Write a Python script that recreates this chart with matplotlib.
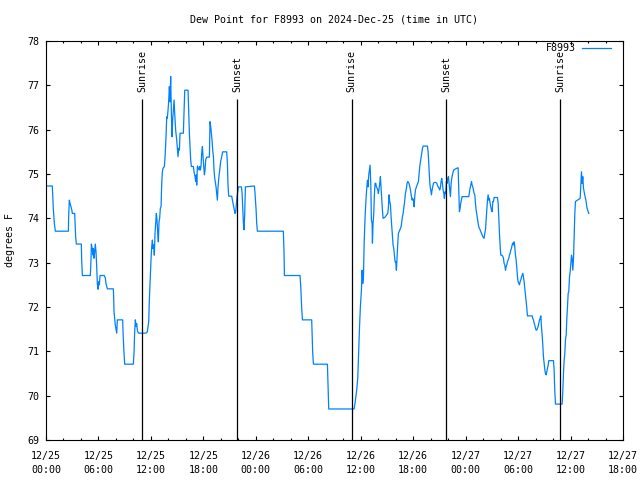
import matplotlib
matplotlib.use('Agg')
import matplotlib.pyplot as plt

# --- data: hours since 2024-12-25 00:00 UTC, dew point (F) ---
hours = [
    0.00, 0.72, 0.76, 0.84, 0.95, 1.07, 2.56, 2.59, 2.67, 2.75, 2.86, 2.97, 3.01, 3.28, 3.32, 3.39,
    3.47, 4.04, 4.08, 4.16, 5.07, 5.15, 5.19, 5.30, 5.38, 5.42, 5.49, 5.57, 5.64, 5.72, 5.80, 5.87,
    5.95, 6.03, 6.10, 6.18, 6.67, 6.79, 6.86, 7.02, 7.70, 7.74, 7.78, 7.93, 8.09, 8.16, 8.77, 8.81,
    8.92, 9.00, 9.99, 10.07, 10.14, 10.22, 10.30, 10.37, 10.45, 10.56, 11.44, 11.59, 11.75, 11.82,
    12.01, 12.09, 12.17, 12.24, 12.32, 12.39, 12.47, 12.55, 12.62, 12.70, 12.78, 12.85, 12.93, 13.00,
    13.08, 13.16, 13.23, 13.31, 13.39, 13.54, 13.62, 13.73, 13.81, 13.88, 13.96, 14.04, 14.11, 14.19,
    14.26, 14.34, 14.42, 14.49, 14.57, 14.65, 14.72, 14.83, 14.95, 15.03, 15.10, 15.18, 15.26, 15.33,
    15.71, 15.79, 15.87, 16.25, 16.32, 16.40, 16.48, 16.55, 16.63, 16.86, 16.93, 17.05, 17.12, 17.20,
    17.24, 17.32, 17.43, 17.51, 17.58, 17.66, 17.74, 17.81, 17.89, 17.96, 18.04, 18.12, 18.19, 18.27,
    18.38, 18.69, 18.76, 18.84, 18.92, 18.99, 19.07, 19.15, 19.22, 19.30, 19.45, 19.53, 19.60, 19.68,
    19.76, 19.83, 19.91, 19.98, 20.10, 20.21, 20.67, 20.75, 20.82, 20.90, 21.24, 21.32, 21.39, 21.47,
    21.55, 21.62, 21.70, 21.78, 21.85, 21.93, 22.01, 22.35, 22.43, 22.50, 22.58, 22.65, 22.73, 22.81,
    23.84, 23.91, 24.03, 24.10, 24.18, 27.15, 27.23, 27.27, 29.06, 29.14, 29.25, 29.33, 30.39, 30.43,
    30.51, 30.59, 32.19, 32.27, 32.34, 35.24, 35.35, 35.47, 35.54, 35.66, 35.74, 35.85, 35.96, 36.08,
    36.16, 36.23, 36.31, 36.39, 36.50, 36.61, 36.69, 36.77, 36.84, 36.92, 36.99, 37.07, 37.15, 37.22,
    37.30, 37.34, 37.41, 37.49, 37.57, 37.64, 37.72, 37.79, 37.87, 37.95, 38.02, 38.10, 38.18, 38.25,
    38.33, 38.41, 38.48, 38.56, 38.75, 38.98, 39.09, 39.17, 39.24, 39.32, 39.40, 39.47, 39.55, 39.63,
    39.70, 39.78, 39.85, 39.93, 40.01, 40.08, 40.16, 40.24, 40.31, 40.47, 40.62, 40.69, 40.77, 40.85,
    40.92, 41.00, 41.11, 41.23, 41.30, 41.38, 41.50, 41.57, 41.65, 41.72, 41.80, 41.88, 41.95, 42.03,
    42.11, 42.18, 42.26, 42.37, 42.53, 42.60, 42.68, 42.75, 42.83, 42.91, 42.98, 43.06, 43.14, 43.63,
    43.71, 43.78, 43.86, 43.94, 44.01, 44.09, 44.16, 44.24, 44.32, 44.43, 44.58, 44.70, 44.77, 44.85,
    44.96, 45.04, 45.12, 45.19, 45.27, 45.34, 45.42, 45.50, 45.57, 45.65, 45.73, 45.80, 45.88, 45.96,
    46.03, 46.11, 46.18, 46.26, 46.34, 46.41, 46.53, 46.64, 46.80, 46.99, 47.14, 47.22, 47.29, 47.37,
    47.44, 47.52, 47.60, 48.36, 48.44, 48.51, 48.59, 48.67, 48.74, 48.82, 48.89, 48.97, 49.05, 49.12,
    49.20, 49.28, 49.35, 49.43, 49.50, 49.58, 49.66, 49.73, 49.89, 49.96, 50.11, 50.19, 50.27, 50.34,
    50.42, 50.50, 50.57, 50.65, 50.72, 50.80, 50.88, 50.95, 51.03, 51.11, 51.18, 51.26, 51.64, 51.72,
    51.79, 51.87, 51.95, 52.02, 52.17, 52.25, 52.33, 52.40, 52.48, 52.56, 52.63, 52.71, 52.78, 52.86,
    52.94, 53.01, 53.09, 53.17, 53.24, 53.32, 53.39, 53.47, 53.55, 53.62, 53.70, 53.78, 53.85, 53.93,
    54.00, 54.16, 54.23, 54.31, 54.39, 54.46, 54.54, 54.61, 54.69, 54.77, 54.84, 54.92, 55.00, 55.07,
    55.61, 55.68, 55.76, 55.84, 55.91, 55.99, 56.06, 56.14, 56.22, 56.29, 56.37, 56.45, 56.52, 56.60,
    56.67, 56.75, 56.83, 56.90, 56.98, 57.06, 57.13, 57.21, 57.28, 57.36, 57.44, 57.51, 58.05, 58.12,
    58.20, 58.28, 59.04, 59.12, 59.20, 59.27, 59.34, 59.42, 59.50, 59.57, 59.65, 59.73, 59.80, 59.88,
    59.96, 60.03, 60.11, 60.18, 60.26, 60.34, 60.41, 60.49, 60.56, 60.95, 61.10, 61.17, 61.25, 61.33,
    61.40, 61.48, 61.59, 61.71, 61.78, 61.86, 61.94, 62.01, 62.09,
]
dewpt = [
    74.73, 74.73, 74.56, 74.21, 73.89, 73.71, 73.71, 74.04, 74.41, 74.34, 74.26, 74.17, 74.11, 74.11, 73.94, 73.59,
    73.42, 73.42, 73.06, 72.71, 72.71, 73.08, 73.42, 73.29, 73.17, 73.32, 73.10, 73.25, 73.42, 73.25, 72.91, 72.53,
    72.40, 72.57, 72.50, 72.71, 72.71, 72.65, 72.53, 72.41, 72.41, 72.23, 71.89, 71.59, 71.41, 71.71, 71.71, 71.44,
    70.97, 70.71, 70.71, 70.97, 71.43, 71.71, 71.56, 71.63, 71.48, 71.41, 71.41, 71.44, 71.67, 72.14,
    73.06, 73.36, 73.51, 73.32, 73.40, 73.17, 73.66, 73.89, 74.11, 73.96, 73.66, 73.47, 73.92, 74.00,
    74.23, 74.26, 74.75, 75.05, 75.13, 75.17, 75.39, 75.84, 76.29, 76.26, 76.44, 76.67, 76.97, 76.63,
    77.20, 76.37, 75.84, 76.22, 76.44, 76.67, 76.37, 75.99, 75.77, 75.58, 75.39, 75.58, 75.54, 75.92,
    75.92, 76.41, 76.89, 76.89, 76.44, 75.92, 75.58, 75.32, 75.17, 75.17, 75.05, 74.94, 74.83, 74.98,
    74.75, 75.18, 75.13, 75.09, 75.17, 75.09, 75.20, 75.47, 75.62, 75.39, 75.17, 74.98, 75.09, 75.32,
    75.38, 75.38, 76.18, 76.07, 75.92, 75.77, 75.54, 75.39, 75.09, 74.90, 74.71, 74.56, 74.41, 74.71,
    74.90, 75.02, 75.17, 75.28, 75.39, 75.50, 75.50, 75.24, 74.75, 74.50, 74.50, 74.41, 74.34, 74.26,
    74.19, 74.11, 74.15, 74.34, 74.49, 74.60, 74.71, 74.71, 74.56, 74.26, 73.89, 73.74, 74.11, 74.71,
    74.73, 74.56, 74.20, 73.89, 73.71, 73.71, 73.21, 72.71, 72.71, 72.46, 71.97, 71.71, 71.71, 71.44,
    70.95, 70.71, 70.71, 70.20, 69.70, 69.70, 69.83, 70.02, 70.13, 70.39, 70.88, 71.48, 72.01, 72.38,
    72.83, 72.53, 72.68, 73.44, 74.04, 74.45, 74.68, 74.86, 74.71, 74.98, 75.09, 75.20, 74.79, 73.96,
    73.89, 73.44, 73.89, 74.11, 74.56, 74.79, 74.79, 74.71, 74.68, 74.64, 74.56, 74.68, 74.79, 74.94,
    74.68, 74.45, 74.19, 74.00, 74.02, 74.08, 74.11, 74.26, 74.53, 74.38, 74.30, 74.04, 73.81, 73.59,
    73.40, 73.32, 73.17, 73.02, 73.02, 72.83, 73.14, 73.44, 73.66, 73.74, 73.81, 73.92, 74.04, 74.11,
    74.23, 74.34, 74.56, 74.68, 74.79, 74.83, 74.80, 74.75, 74.68, 74.60, 74.49, 74.41, 74.45, 74.41,
    74.26, 74.49, 74.64, 74.71, 74.79, 74.83, 75.02, 75.17, 75.28, 75.39, 75.50, 75.58, 75.63, 75.63,
    75.50, 75.24, 74.94, 74.71, 74.64, 74.53, 74.64, 74.71, 74.79, 74.81, 74.81, 74.79, 74.75, 74.71,
    74.68, 74.64, 74.71, 74.83, 74.90, 74.79, 74.64, 74.56, 74.45, 74.60, 74.56, 74.83, 74.79, 74.90,
    74.94, 74.79, 74.68, 74.49, 74.79, 74.90, 75.02, 75.09, 75.11, 75.13, 75.14, 74.64, 74.15, 74.23,
    74.34, 74.41, 74.49, 74.49, 74.60, 74.68, 74.75, 74.83, 74.75, 74.71, 74.64, 74.56, 74.53, 74.34,
    74.19, 74.08, 74.00, 73.89, 73.81, 73.77, 73.74, 73.70, 73.62, 73.59, 73.55, 73.66, 73.74, 73.96,
    74.19, 74.41, 74.53, 74.41, 74.45, 74.34, 74.26, 74.19, 74.15, 74.38, 74.38, 74.47, 74.47, 74.34,
    74.00, 73.66, 73.36, 73.17, 73.17, 73.14, 73.10, 72.98, 72.95, 72.83, 72.91, 72.95, 73.02, 73.06,
    73.10, 73.17, 73.21, 73.29, 73.32, 73.40, 73.44, 73.40, 73.47, 73.36, 73.17, 73.06, 72.87, 72.68,
    72.57, 72.50, 72.57, 72.61, 72.68, 72.72, 72.76, 72.68, 72.57, 72.42, 72.31, 72.16, 71.97, 71.80,
    71.80, 71.74, 71.71, 71.63, 71.59, 71.52, 71.48, 71.48, 71.52, 71.56, 71.63, 71.71, 71.74, 71.80,
    71.56, 71.37, 71.14, 70.88, 70.73, 70.58, 70.50, 70.47, 70.54, 70.62, 70.69, 70.79, 70.79, 70.58,
    70.09, 69.81, 69.81, 70.13, 70.54, 70.80, 70.95, 71.26, 71.37, 71.71, 72.01, 72.31, 72.35, 72.68,
    72.80, 72.98, 73.17, 73.10, 72.83, 73.10, 73.59, 74.11, 74.38, 74.43, 74.45, 74.75, 75.05, 74.79,
    74.94, 74.68, 74.56, 74.45, 74.38, 74.26, 74.19, 74.15, 74.11,
]

sun_hours = [11.02, 21.89, 34.98, 45.80, 58.84]
sun_names = ['Sunrise', 'Sunset', 'Sunrise', 'Sunset', 'Sunrise']

tick_hours = list(range(0, 67, 6))
tick_labels = ['12/25\n00:00', '12/25\n06:00', '12/25\n12:00', '12/25\n18:00',
               '12/26\n00:00', '12/26\n06:00', '12/26\n12:00', '12/26\n18:00',
               '12/27\n00:00', '12/27\n06:00', '12/27\n12:00', '12/27\n18:00']

plt.rcParams['font.family'] = 'DejaVu Sans Mono'
plt.rcParams['font.size'] = 7.2

fig = plt.figure(figsize=(6.4, 4.8), dpi=100)
ax = fig.add_axes([46/640, 40/480, 577/640, 399/480])

line, = ax.plot(hours, dewpt, color='#0080ff', lw=0.9, label='F8993')

# sunrise / sunset markers
ax.vlines(sun_hours, 69, 76.69, color='black', lw=0.9)
for h, name in zip(sun_hours, sun_names):
    ax.text(h, 76.85, name, rotation=90, ha='center', va='bottom')

ax.set_xlim(0, 66)
ax.set_ylim(69, 78)
ax.set_xticks(tick_hours)
ax.set_xticklabels(tick_labels, linespacing=1.5)
ax.set_xticks(range(0, 67, 2), minor=True)
ax.set_yticks(range(69, 79))
ax.tick_params(which='both', direction='in', top=True, right=True, width=0.8)
ax.tick_params(axis='x', which='major', length=3, pad=8)
ax.tick_params(axis='x', which='minor', length=1.5)
ax.tick_params(axis='y', which='major', length=2.6, pad=5)
for s in ax.spines.values():
    s.set_linewidth(0.8)

fig.text(334/640, 1 - 19/480, 'Dew Point for F8993 on 2024-Dec-25 (time in UTC)',
         ha='center', va='center')
fig.text(10.5/640, 1 - 240/480, 'degrees F', rotation=90, ha='center', va='center')

ax.legend(handles=[line], loc='upper right', bbox_to_anchor=(611/640, 1 - 43/480),
          bbox_transform=fig.transFigure, frameon=False, markerfirst=False,
          handlelength=2.9, handletextpad=0.6, borderpad=0, borderaxespad=0)

fig.savefig('out.png', dpi=100)
